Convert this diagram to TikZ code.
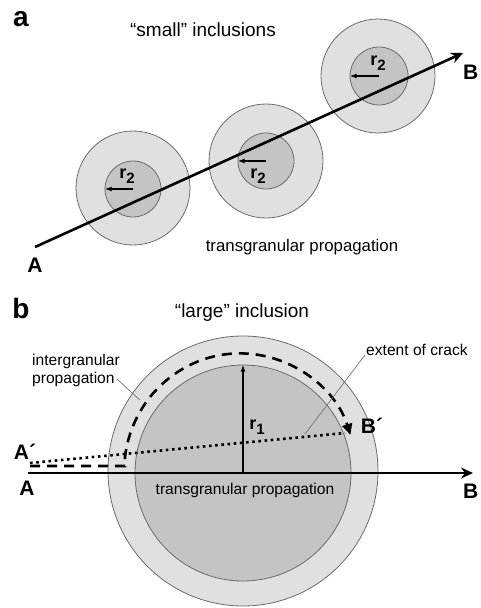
\documentclass[tikz,border=0pt]{standalone}
\usepackage{fontspec}
\setmainfont{Liberation Sans}
\usetikzlibrary{arrows.meta, positioning}
\newcommand{\rlab}[1]{r\raisebox{-0.55ex}{\fontsize{15}{15}\selectfont #1}}

\begin{document}
\begin{tikzpicture}[
    x=1pt, y=-1pt,
    grain/.style={circle, draw=black!58, line width=0.8pt, fill=black!12,
                  inner sep=0pt, minimum size=#1},
    core/.style={circle, draw=black!58, line width=0.8pt, fill=black!23,
                 inner sep=0pt, minimum size=#1},
    crack/.style={-{Stealth[length=12pt, width=11pt, inset=4pt]}, line width=2.6pt},
    radial/.style={-{Latex[length=7pt, width=5pt]}, line width=1.3pt},
    ingr/.style={-{Triangle[length=11pt, width=10pt]}, line width=2.6pt,
                 dash pattern=on 10pt off 7pt},
    extent/.style={line width=2.6pt, dash pattern=on 2.6pt off 3.6pt},
    leader/.style={draw=black!55, line width=0.7pt},
    panel/.style={font=\bfseries\fontsize{28}{30}\selectfont, inner sep=0pt},
    title/.style={font=\fontsize{19}{21}\selectfont, inner sep=0pt},
    note/.style={font=\fontsize{16.8}{19}\selectfont, inner sep=0pt},
    noteb/.style={font=\fontsize{15.6}{18}\selectfont, inner sep=0pt},
    endlbl/.style={font=\bfseries\fontsize{21}{23}\selectfont, inner sep=0pt},
    rlbl/.style={font=\bfseries\fontsize{18}{20}\selectfont, inner sep=0pt}
]
\useasboundingbox (0,0) rectangle (480,608);

% panel a
\node[panel] (pa) at (21,19) {a};
\node[title] (ta) at (203,30) {“small” inclusions};

\node[grain=114] (g1) at (133,188) {};
\node[core=56]   (c1) at (133,189) {};
\node[grain=114] (g2) at (266,161) {};
\node[core=56]   (c2) at (266,161) {};
\node[grain=114] (g3) at (378,76)  {};
\node[core=58]   (c3) at (379,76)  {};

\draw[radial] (c1.center) -- (c1.west);
\draw[radial] (c2.center) -- (c2.west);
\draw[radial] (c3.center) -- (c3.west);
\node[rlbl] (r21) at (127,176) {\rlab{2}};
\node[rlbl] (r22) at (258,176) {\rlab{2}};
\node[rlbl] (r23) at (378,63)  {\rlab{2}};

\coordinate (A1) at (35,247);
\coordinate (B1) at (463,53);
\draw[crack] (A1) -- (B1);
\node[endlbl] (la1) at (35,265) {A};
\node[endlbl, anchor=west] (lb1) at (463,72) {B};
\node[note] (tga) at (302,247) {transgranular propagation};

% panel b
\node[panel] (pb) at (21,308) {b};
\node[title] (tb) at (242,313) {“large” inclusion};

\node[grain=270] (G) at (243,471) {};
\node[core=216]  (C) at (243,473) {};

\draw[radial] (C.center) -- (C.north);
\node[rlbl] (r1) at (257,427) {\rlab{1}};

\coordinate (A2) at (28,473);
\coordinate (B2) at (473,473);
\draw[crack] (A2) -- (B2);
\node[endlbl] (la2) at (27,488) {A};
\node[endlbl, anchor=west] (lb2) at (463,491) {B};

\coordinate (Ad) at (30,466);
\coordinate (Ak) at (125,466);
\draw[ingr] (Ad) -- (Ak) -- ++(0,-9)
    arc[start angle=187, end angle=342, x radius=116, y radius=118];

\coordinate (At) at (30,463);
\coordinate (Bt) at (345,433);
\draw[extent] (At) -- (Bt);
\node[endlbl] (la3) at (25,452) {A´};
\node[endlbl] (lb3) at (372,426) {B´};

\node[noteb] (tgb) at (245,490) {transgranular propagation};

\node[noteb, anchor=base west] (ig1) at (32,365) {intergranular};
\node[noteb, anchor=base west] (ig2) at (32,383) {propagation};
\coordinate (igp) at (140,400);
\draw[leader] ([xshift=2pt]ig2.east) -- (igp);

\node[noteb, anchor=base west] (ec) at (366,355) {extent of crack};
\coordinate (ecp) at (305,434);
\draw[leader] ([xshift=-1pt]ec.base west) -- (ecp);
\end{tikzpicture}
\end{document}
